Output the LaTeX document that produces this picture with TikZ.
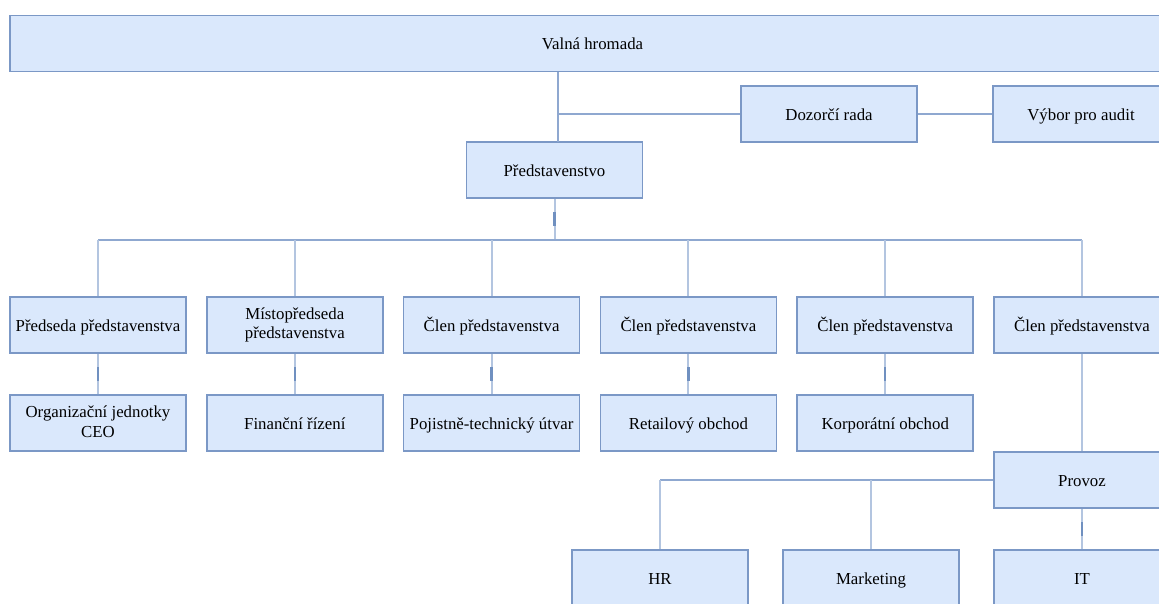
\documentclass[tikz,border=0pt]{standalone}
\usepackage{fontspec}
\setmainfont{Liberation Serif}
\usepackage{tikz}
\usetikzlibrary{positioning,calc}

\definecolor{boxfill}{HTML}{DAE8FC}
\definecolor{boxline}{HTML}{7B98C6}
\definecolor{linkline}{HTML}{8FA8D0}
\definecolor{dropline}{HTML}{B3C5E0}
\definecolor{tickline}{HTML}{7090C0}

\newcommand{\boxstrut}{\rule[-3.2pt]{0pt}{19.2pt}}

\tikzset{
  orgbox/.style={draw=boxline, fill=boxfill, line width=1.5pt, minimum width=176pt,
    minimum height=56pt, inner sep=2pt, align=center, font=\fontsize{16.8}{19.5}\selectfont,
    execute at begin node=\boxstrut, execute at end node=\boxstrut},
  link/.style={draw=linkline, line width=1.5pt},
  drop/.style={draw=dropline, line width=2pt},
  tick/.style={draw=tickline, line width=2.5pt}
}

\begin{document}
\begin{tikzpicture}[x=1pt,y=-1pt]
\useasboundingbox (0,0) rectangle (1159,603);
\clip (0,0) rectangle (1159,603);

\node[orgbox, minimum width=1165pt] (vh) at (592.5,43.5) {Valná hromada};
\node[orgbox] (ps) at (554.5,170) {Představenstvo};
\node[orgbox] (dr) at (829,114) {Dozorčí rada};
\node[orgbox] (va) at (1081,114) {Výbor pro audit};

% clenove predstavenstva
\node[orgbox] (m1) at (98,325) {Předseda představenstva};
\node[orgbox, right=19.3pt of m1] (m2) {Místopředseda\\představenstva};
\node[orgbox, right=19.3pt of m2] (m3) {Člen představenstva};
\node[orgbox, right=19.3pt of m3] (m4) {Člen představenstva};
\node[orgbox, right=19.3pt of m4] (m5) {Člen představenstva};
\node[orgbox, right=19.3pt of m5] (m6) {Člen představenstva};

\node[orgbox, below=40.5pt of m1] (u1) {Organizační jednotky\\CEO};
\node[orgbox, below=40.5pt of m2] (u2) {Finanční řízení};
\node[orgbox, below=40.5pt of m3] (u3) {Pojistně-technický útvar};
\node[orgbox, below=40.5pt of m4] (u4) {Retailový obchod};
\node[orgbox, below=40.5pt of m5] (u5) {Korporátní obchod};

\node[orgbox, below=97.5pt of m6] (pv) {Provoz};
\node[orgbox, below=40.5pt of pv] (it) {IT};
\node[orgbox, left=33.5pt of it] (mk) {Marketing};
\node[orgbox, left=33.5pt of mk] (hr) {HR};

\coordinate (bus) at (0,240);

\draw[link] (558,72) -- (558,142);
\draw[link] (558,114) -- (dr.west);
\draw[link] (dr.east) -- (va.west);

\draw[drop] (ps.south) -- (ps.south |- bus);
\draw[tick] ($(ps.south)!0.33!(ps.south |- bus)$) -- ($(ps.south)!0.67!(ps.south |- bus)$);
\draw[link] (m1.north |- bus) -- (m6.north |- bus);
\foreach \i in {1,...,6}
  \draw[drop] (m\i.north |- bus) -- (m\i.north);

\foreach \i in {1,...,5} {
  \draw[drop] (m\i.south) -- (u\i.north);
  \draw[tick] ($(m\i.south)!0.33!(u\i.north)$) -- ($(m\i.south)!0.67!(u\i.north)$);
}

\draw[drop] (m6.south) -- (pv.north);
\draw[link] (pv.west) -- (hr.north |- pv.west);
\draw[drop] (hr.north |- pv.west) -- (hr.north);
\draw[drop] (mk.north |- pv.west) -- (mk.north);
\draw[drop] (pv.south) -- (it.north);
\draw[tick] ($(pv.south)!0.33!(it.north)$) -- ($(pv.south)!0.67!(it.north)$);
\end{tikzpicture}
\end{document}
